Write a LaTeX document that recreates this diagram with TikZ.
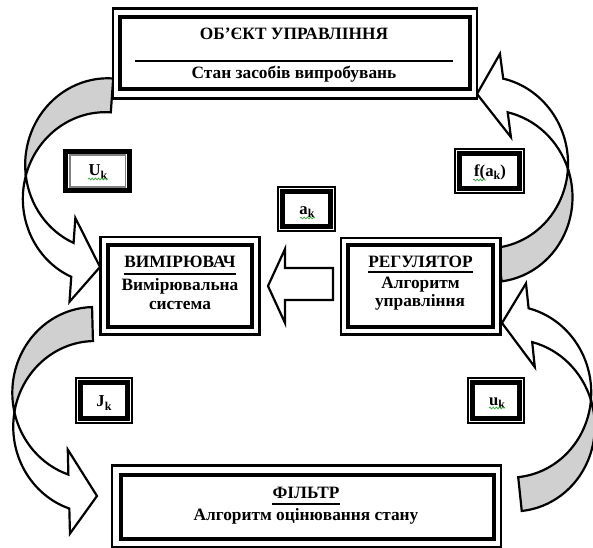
\documentclass[tikz,border=0pt]{standalone}
\usepackage{fontspec}
\setmainfont{Liberation Serif}
\usetikzlibrary{decorations.pathmorphing}
\definecolor{bandgray}{RGB}{208,208,208}
\definecolor{spellgreen}{RGB}{70,170,70}
\newdimen\pxl \pxl=0.75pt
\newcommand\CurvArrow[3]{%
 \begin{scope}[shift={(#1,#2)},rotate=#3]
  \filldraw[arrline,fill=bandgray] (0,-189)
     arc[start angle=270,end angle=168.6,x radius=82,y radius=86]
     arc[start angle=191.4,end angle=270,x radius=82,y radius=86] -- cycle;
  \filldraw[arrline,fill=white] (-80.38,-86)
     arc[start angle=168.6,end angle=110,x radius=82,y radius=86]
     -- (-28,-47.18) -- (0,0) -- (-28,36.82) -- (-28,11.82)
     arc[start angle=110,end angle=191.4,x radius=82,y radius=86] -- cycle;
 \end{scope}}
\begin{document}
\begin{tikzpicture}[x=0.75pt,y=-0.75pt,
  arrline/.style={draw=black,line width=2.2\pxl,line join=miter},
  thinframe/.style={draw=black,line width=2.4\pxl,fill=white},
  thickframe/.style={draw=black,line width=4\pxl},
  sthin/.style={draw=black,line width=1.2\pxl,fill=white},
  sthick/.style={draw=black,line width=4.8\pxl},
  ttl/.style={font=\fontsize{13}{15}\selectfont\bfseries,inner sep=0pt,anchor=base},
  lbl/.style={font=\fontsize{12.5}{14}\selectfont\bfseries,inner sep=0pt},
  ulined/.style={draw=black,line width=2\pxl},
  wavy/.style={draw=spellgreen,line width=0.8\pxl,decorate,decoration={snake,amplitude=0.9\pxl,segment length=3.2\pxl}}]
\useasboundingbox[fill=white] (0,0) rectangle (593,548);

% curved block arrows
\CurvArrow{100}{267}{-4}
\CurvArrow{97}{496}{1.5}
\CurvArrow{477}{94}{-172.5}
\CurvArrow{502}{323}{-174}

% top box
\draw[thinframe] (113,8.7) rectangle (477,98.5);
\draw[thickframe] (120.2,17) rectangle (470,89.5);
\node[ttl] (objt) at (294,39.3) {ОБ’ЄКТ УПРАВЛІННЯ};
\draw[ulined] (135,60.8) -- (453,60.8);
\node[ttl] (objs) at (294,79) {Стан засобів випробувань};

% measuring box
\draw[thinframe] (100.3,237.3) rectangle (259.3,334.7);
\draw[thickframe] (108,244.7) rectangle (252,327);
\node[ttl] (meast) at (180,267.3) {ВИМІРЮВАЧ};
\draw[ulined] ([yshift=-4.8pt]meast.base west) -- ([yshift=-4.8pt]meast.base east);
\node[ttl] (meas1) at (180,291) {Вимірювальна};
\node[ttl] (meas2) at (180,310) {система};

% regulator box
\draw[thinframe] (340.7,238) rectangle (500.5,334.5);
\draw[thickframe] (348.3,245.3) rectangle (493.3,327);
\node[ttl] (regt) at (420.5,268) {РЕГУЛЯТОР};
\draw[ulined] ([yshift=-3pt]regt.base west) -- ([yshift=-3pt]regt.base east);
\node[ttl] (reg1) at (420.5,289) {Алгоритм};
\node[ttl] (reg2) at (420,307) {управління};

% filter box
\draw[thinframe] (112,465.5) rectangle (501,547);
\draw[thickframe] (120.5,474.7) rectangle (493.7,539);
\node[ttl] (filt) at (306,499) {ФІЛЬТР};
\draw[ulined] ([yshift=-3.5pt]filt.base west) -- ([yshift=-3.5pt]filt.base east);
\node[ttl] (fil1) at (306,521) {Алгоритм оцінювання стану};

% block arrow regulator -> measurer
\filldraw[arrline,fill=white] (333,268) -- (285,268) -- (285,249) -- (268,286)
   -- (285,323) -- (285,300) -- (333,300) -- cycle;

% small label boxes
\draw[line width=5\pxl,fill=white] (65.8,151.5) rectangle (129.7,190.8);
\draw[draw=gray,line width=1.2\pxl] (70,155) rectangle (125.5,187);
\node[lbl] (uk) at (98,172) {U\raisebox{-2.5pt}{\fontsize{9}{9}\selectfont k}};
\draw[wavy] (88,179) -- (108,179);

\draw[sthin] (455,149) rectangle (524,193);
\draw[sthick] (459.5,153.5) rectangle (519.5,188.5);
\node[lbl] (fak) at (490,172) {f(a\raisebox{-2.5pt}{\fontsize{9}{9}\selectfont k})};
\draw[wavy] (473,180) -- (486,180);

\draw[sthin] (278,187) rectangle (335,231);
\draw[sthick] (282.5,191.5) rectangle (330.5,226.5);
\node[lbl] (ak) at (307,212) {a\raisebox{-2.5pt}{\fontsize{9}{9}\selectfont k}};
\draw[wavy] (300,218) -- (315,218);

\draw[sthin] (76,378) rectangle (132,423);
\draw[sthick] (80.5,382.5) rectangle (127.5,418.5);
\node[lbl] (jk) at (104,403) {J\raisebox{-2.5pt}{\fontsize{9}{9}\selectfont k}};

\draw[sthin] (468,378) rectangle (524,423);
\draw[sthick] (472.5,382.5) rectangle (519.5,418.5);
\node[lbl] (usk) at (497,403) {u\raisebox{-2.5pt}{\fontsize{9}{9}\selectfont k}};
\draw[wavy] (489,408) -- (505,408);
\end{tikzpicture}
\end{document}
